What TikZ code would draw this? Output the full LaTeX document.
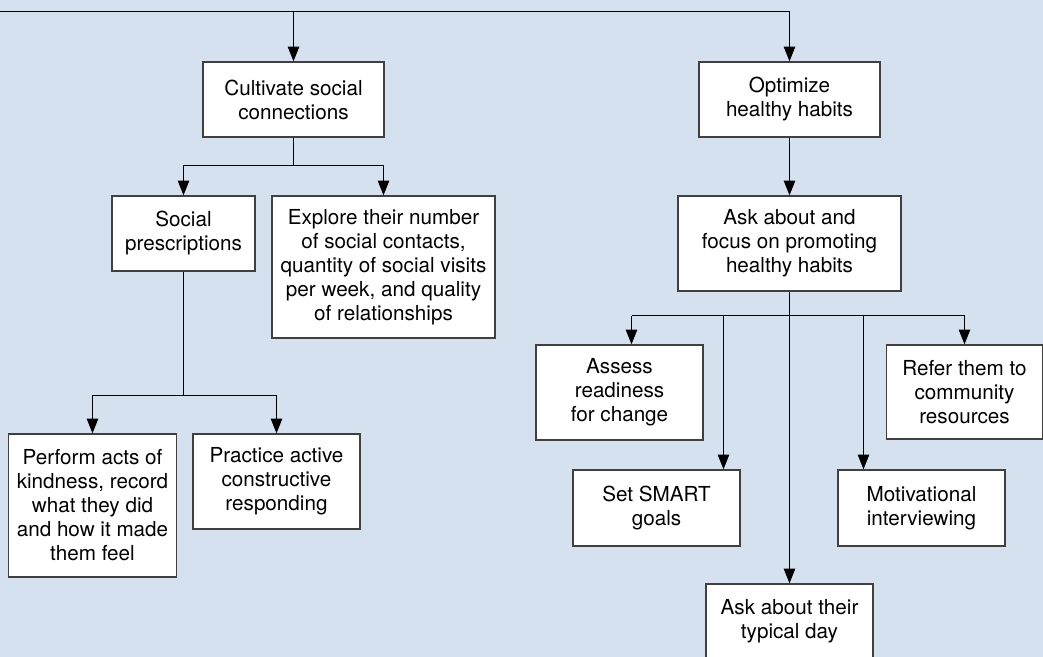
\documentclass[tikz,border=0pt]{standalone}
\usepackage{fontspec}
\setmainfont{TeX Gyre Heros}
\usetikzlibrary{arrows.meta}
\definecolor{panel}{RGB}{213,225,239}
\definecolor{rim}{RGB}{64,64,64}

\begin{document}
\begin{tikzpicture}[x=0.75pt, y=-0.75pt, >={Triangle[length=11pt,width=8.5pt]},
  font=\fontsize{15.5}{18}\selectfont,
  box/.style={draw=rim, line width=1pt, fill=white, align=center, inner sep=0pt},
  boxsize/.style 2 args={minimum width=#1*0.75pt, minimum height=#2*0.75pt},
  link/.style={line width=1pt}]
  \path[use as bounding box, fill=panel] (0,0) rectangle (1043,657);

  % left branch
  \node[box, boxsize={181}{75}] (cult) at (293.5,99.5) {Cultivate social\\connections};
  \node[box, boxsize={143}{75}] (socp) at (183.5,233.5) {Social\\prescriptions};
  \node[box, boxsize={223}{142}] (expl) at (383.5,267) {Explore their number\\of social contacts,\\quantity of social visits\\per week, and quality\\of relationships};
  \node[box, boxsize={168}{143}] (perf) at (92.5,505.5) {Perform acts of\\kindness, record\\what they did\\and how it made\\them feel};
  \node[box, boxsize={167}{95}] (prac) at (276.5,481.5) {Practice active\\constructive\\responding};

  % right branch
  \node[box, boxsize={181}{75}] (optim) at (789.5,99.5) {Optimize\\healthy habits};
  \node[box, boxsize={223}{95}] (askf) at (789.5,243.5) {Ask about and\\focus on promoting\\healthy habits};
  \node[box, boxsize={167}{95}] (assess) at (619.5,392.5) {Assess\\readiness\\for change};
  \node[box, boxsize={156}{94}] (refer) at (964.5,392) {Refer them to\\community\\resources};
  \node[box, boxsize={167}{76}] (smart) at (656.5,508) {Set SMART\\goals};
  \node[box, boxsize={167}{76}] (motiv) at (921.5,508) {Motivational\\interviewing};
  \node[box, boxsize={167}{75}] (typday) at (789.5,621.5) {Ask about their\\typical day};

  \coordinate (origin) at (0,11.5);
  \draw[link,->] (origin) -| (optim.north);
  \draw[link,->] (origin -| cult.north) -- (cult.north);

  \draw[link] (cult.south) -- ++(0,28) coordinate (hubL);
  \draw[link,->] (hubL) -| (socp.north);
  \draw[link,->] (hubL) -| (expl.north);

  \draw[link] (socp.south) -- ++(0,124) coordinate (hubS);
  \draw[link,->] (hubS) -| (perf.north);
  \draw[link,->] (hubS) -| (prac.north);

  \draw[link,->] (optim) -- (askf);
  \draw[link,->] (askf) -- (typday);
  \draw[link] (631.5,315.5) -- (964.5,315.5);
  \foreach \x/\n in {631.5/assess,723.5/smart,863.5/motiv,964.5/refer}
    \draw[link,->] (\x,315.5) -- (\x,315.5 |- \n.north);
\end{tikzpicture}
\end{document}
